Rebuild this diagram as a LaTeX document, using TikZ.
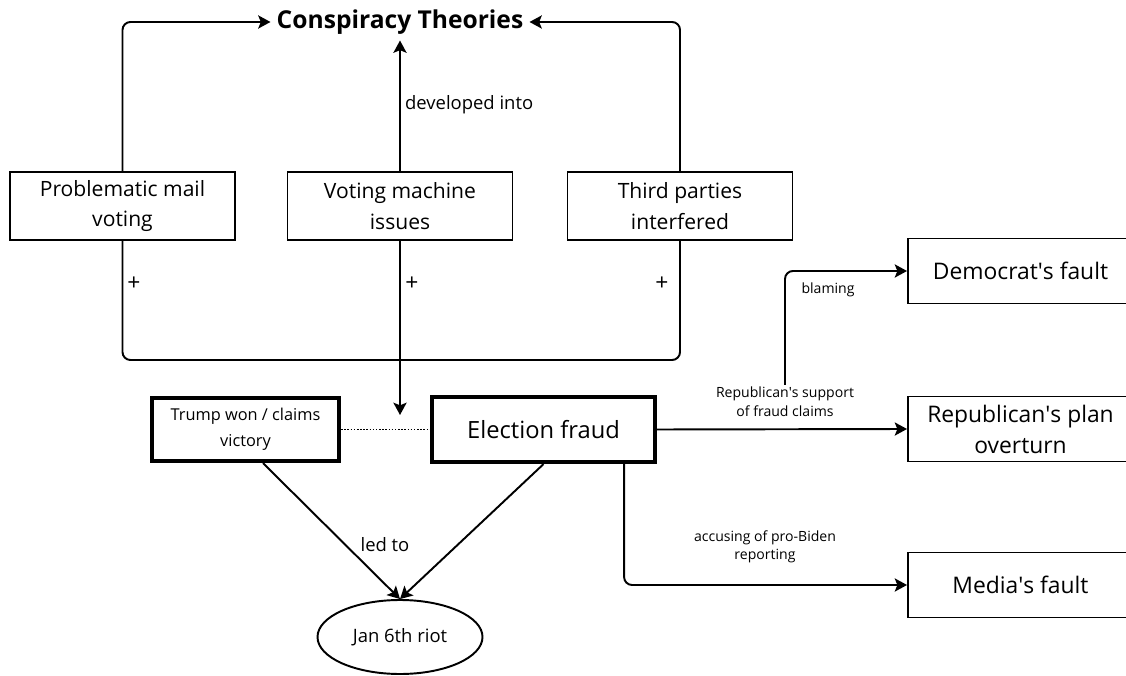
\documentclass[tikz,border=0pt]{standalone}
\usepackage{fontspec}
\setmainfont{Open Sans}
\usepackage{tikz}
\usetikzlibrary{positioning}
\usetikzlibrary{arrows.meta}
\usetikzlibrary{shapes.geometric}
\newcommand{\apos}{\textquotesingle}
\begin{document}
\begin{tikzpicture}

            \tikzstyle{causeBox} = [draw, line width=1.1pt, minimum width=4.5cm, minimum height=1.36cm, align=center, font=\fontsize{12}{17.5}\selectfont];
            \tikzstyle{faultBox} = [draw, line width=1.1pt, minimum width=4.5cm, minimum height=1.3cm, align=center, font=\fontsize{13}{17.6}\selectfont];
            \tikzstyle{focusedBox} = [draw, line width=2.4pt, minimum height=1.26cm, align=center];
            \tikzstyle{normalEdge} = [line width=1.1pt, rounded corners=4.5pt];
            \tikzstyle{arrowEdge} = [normalEdge, -{Stealth[length=7pt, width=7.5pt, inset=1.5pt]}];
            \tikzstyle{smallLabel} = [align=center, inner sep=1pt, font=\fontsize{8}{11}\selectfont];
            \tikzstyle{midLabel} = [inner sep=1pt, font=\fontsize{10.5}{13}\selectfont];

            \clip (0,0) rectangle (22.52,-13.52);

            \node[font=\bfseries\fontsize{14}{17}\selectfont] (theories) at (8.0,-0.44) {Conspiracy Theories};

            \node[causeBox] (mail)    at ( 2.45,-4.12) {Problematic mail\\voting};
            \node[causeBox] (machine) at ( 8.0,-4.12) {Voting machine\\issues};
            \node[causeBox] (third)   at (13.6,-4.12) {Third parties\\interfered};

            \node[focusedBox, minimum width=3.74cm, font=\fontsize{9.3}{14.8}\selectfont] (trump) at ( 4.91,-8.59) {Trump won / claims\\victory};
            \node[focusedBox, minimum width=4.46cm, minimum height=1.3cm, font=\fontsize{13.5}{17}\selectfont] (fraud) at (10.87,-8.59) {Election fraud};

            \node[faultBox] (democrat)   at (20.41,-5.42) {Democrat\apos s fault};
            \node[faultBox] (republican) at (20.41,-8.58) {Republican\apos s plan\\overturn};
            \node[faultBox] (media)      at (20.41,-11.7) {Media\apos s fault};

            \node[draw, ellipse, line width=1.1pt, minimum width=3.3cm, minimum height=1.48cm, font=\fontsize{10.5}{13}\selectfont] (riot) at (8.0,-12.74) {Jan 6th riot};

            \coordinate (merge) at (8.0,-7.2);
            \coordinate (pair)  at (8.0,-8.3);

            \node[midLabel, anchor=west] (developed) at (8.06,-2.1) {developed into};
            \node[midLabel, font=\fontsize{13}{13}\selectfont] (plusA) at ( 2.68,-5.68) {+};
            \node[midLabel, font=\fontsize{13}{13}\selectfont] (plusB) at ( 8.24,-5.68) {+};
            \node[midLabel, font=\fontsize{13}{13}\selectfont] (plusC) at (13.24,-5.68) {+};
            \node[midLabel] (ledto) at ( 7.7,-10.9) {led to};

            \node[smallLabel] (support)  at (15.7,-8.04) {Republican\apos s support\\of fraud claims};
            \node[smallLabel] (blaming)  at (16.56,-5.8) {blaming};
            \node[smallLabel, font=\fontsize{8}{10}\selectfont] (accusing) at (15.3,-10.94) {accusing of pro-Biden\\reporting};

            \draw[arrowEdge] (mail.north) |- (theories.west);
            \draw[arrowEdge] (third.north) |- (theories.east);
            \draw[arrowEdge] (machine.north) -- (theories.south);

            \draw[normalEdge] (mail.south) |- (merge);
            \draw[normalEdge] (third.south) |- (merge);
            \draw[arrowEdge] (machine.south) -- (pair);

            \draw[line width=0.9pt, dash pattern=on 0.9pt off 0.9pt] (trump.east) -- (fraud.west);

            \draw[arrowEdge] (fraud.east) -- (republican.west);
            \draw[arrowEdge] (support.north) |- (democrat.west);
            \draw[arrowEdge] ([xshift=-0.66cm]fraud.south east) |- (media.west);

            \draw[arrowEdge] ([xshift=0.35cm]trump.south) -- (riot.north);
            \draw[arrowEdge] (fraud.south) -- (riot.north);
          \end{tikzpicture}
\end{document}
